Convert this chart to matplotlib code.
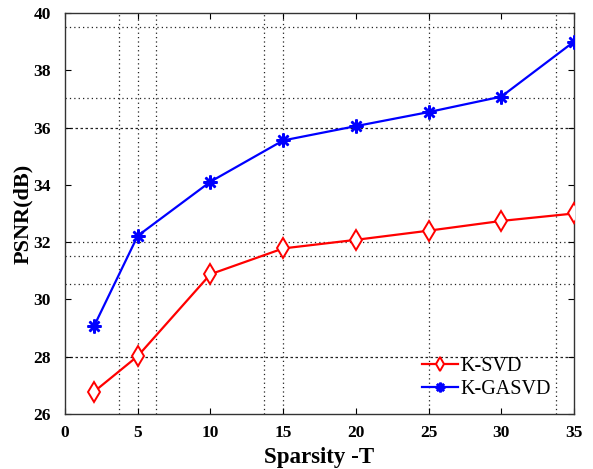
import numpy as np
import matplotlib.pyplot as plt

sparsity = [2, 5, 10, 15, 20, 25, 30, 35]
ksvd = [26.78, 28.02, 30.88, 31.78, 32.08, 32.40, 32.74, 33.00]
kgasvd = [29.07, 32.22, 34.11, 35.55, 36.05, 36.54, 37.08, 39.00]

# the odd dotted grid of the original figure
grid_x = [3.73, 5.0, 6.25, 13.7, 15.0, 25.0, 33.75]
grid_y = [39.52, 37.02, 32.0, 31.52, 30.54]
grid_y_dashed = [36.0, 28.0]

plt.rcParams['font.family'] = ['Liberation Serif', 'DejaVu Serif']

fig = plt.figure(figsize=(5.93, 4.69), dpi=100)
ax = fig.add_axes([0.1096, 0.1173, 0.8584, 0.8550])

for gx in grid_x:
    ax.axvline(gx, color="#222222", lw=0.9, ls=(0, (1, 2.5)), zorder=1)
for gy in grid_y:
    ax.axhline(gy, color="#222222", lw=0.9, ls=(0, (1, 2.5)), zorder=1)
for gy in grid_y_dashed:
    ax.axhline(gy, color="#222222", lw=0.9, ls=(0, (2, 2)), zorder=1)

ax.plot(sparsity, ksvd, color="red", lw=1.6, marker="d", ms=10,
        mfc="white", mec="red", mew=1.4, label="K-SVD", zorder=3)
ax.plot(sparsity, kgasvd, color="blue", lw=1.6, marker=(8, 2, 0), ms=10,
        mec="blue", mew=1.8, label="K-GASVD", zorder=3)

ax.set_xlim(0, 35)
ax.set_ylim(26, 40)
ax.set_xticks(np.arange(0, 36, 5))
ax.set_yticks(np.arange(26, 41, 2))
ax.tick_params(direction="in", top=True, right=True, length=4, width=0.8,
               labelsize=12.5)
ax.tick_params(axis="x", pad=8)
ax.tick_params(axis="y", pad=10)
for lbl in ax.get_xticklabels() + ax.get_yticklabels():
    lbl.set_fontweight("bold")
for sp in ax.spines.values():
    sp.set_color("#333333")
    sp.set_linewidth(1.0)

ax.set_xlabel("Sparsity -T", fontsize=16.5, fontweight="bold", labelpad=4)
ax.set_ylabel("PSNR(dB)", fontsize=16, fontweight="bold", labelpad=0)

ax.legend(loc="lower right", bbox_to_anchor=(0.99, -0.008), frameon=False,
          fontsize=14.5, handlelength=1.8, handletextpad=0.1,
          labelspacing=0.2, markerscale=0.7)

fig.savefig("out.png", dpi=100)
